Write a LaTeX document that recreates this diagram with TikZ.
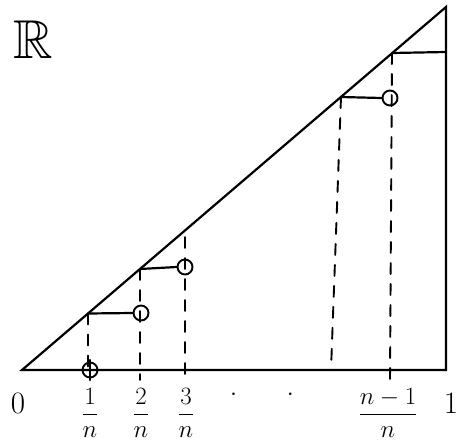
\documentclass[tikz,border=0pt]{standalone}
\usepackage{graphicx}
\usepackage{amsmath,amssymb}
\begin{document}
\begin{tikzpicture}[x=1pt,y=-1pt,line width=2.2pt,line cap=round,
  dashline/.style={dash pattern=on 11pt off 10pt,line width=1.9pt},
  dot/.style={circle,draw,line width=1.9pt,minimum size=15pt,inner sep=0pt},
  lab/.style={font=\Huge,inner sep=0pt}]
\useasboundingbox (0,0) rectangle (460,444);
% triangle corners
\coordinate (O) at (22,370);
\coordinate (B) at (446,370);
\coordinate (T) at (446,7);
\draw (O) -- (B) -- (T) -- cycle;
% points on diagonal
\coordinate (d1) at (88,313.5);
\coordinate (d2) at (140,269);
\coordinate (d3) at (341,97);
\coordinate (d4) at (392,53);
\coordinate (r4) at (446,52);
% circles
\node[dot] (c0) at (90,370) {};
\node[dot] (c1) at (141,313) {};
\node[dot] (c2) at (185,267) {};
\node[dot] (c3) at (390,98) {};
% horizontal steps
\draw (d1) -- (c1.west);
\draw (d2) -- (c2.west);
\draw (d3) -- (c3.west);
\draw (d4) -- (r4);
% baseline ticks
\coordinate (t0a) at (90,360); \coordinate (t0b) at (90,380);
\draw (t0a) -- (t0b);
\coordinate (t1) at (140,380);
\coordinate (t2) at (185,380);
\coordinate (t3) at (331,370);
\coordinate (t4) at (390,380);
\coordinate (b1) at (88,370);
% dashed verticals
\draw[dashline] (d1) -- (b1);
\draw[dashline] (d2) -- (t1);
\coordinate (u2) at (185,237);
\draw[dashline] (u2) -- (t2);
\draw[dashline] (d3) -- (t3);
\draw[dashline] (d4) -- (t4);
% labels
\node[lab] (l0) at (18,403) {\scalebox{1.25}{$0$}};
\node[lab] (l1) at (90,413) {$\dfrac{1}{n}$};
\node[lab] (l2) at (141,413) {$\dfrac{2}{n}$};
\node[lab] (l3) at (186,413) {$\dfrac{3}{n}$};
\node[lab] (dots) at (262,395) {$\cdot\qquad\cdot$};
\node[lab] (ln) at (388,413) {$\dfrac{n-1}{n}$};
\node[lab] (l4) at (451,403) {\scalebox{1.25}{$1$}};
\node[lab] (R) at (33,40) {\scalebox{2.2}{$\mathbb{R}$}};
\end{tikzpicture}
\end{document}
